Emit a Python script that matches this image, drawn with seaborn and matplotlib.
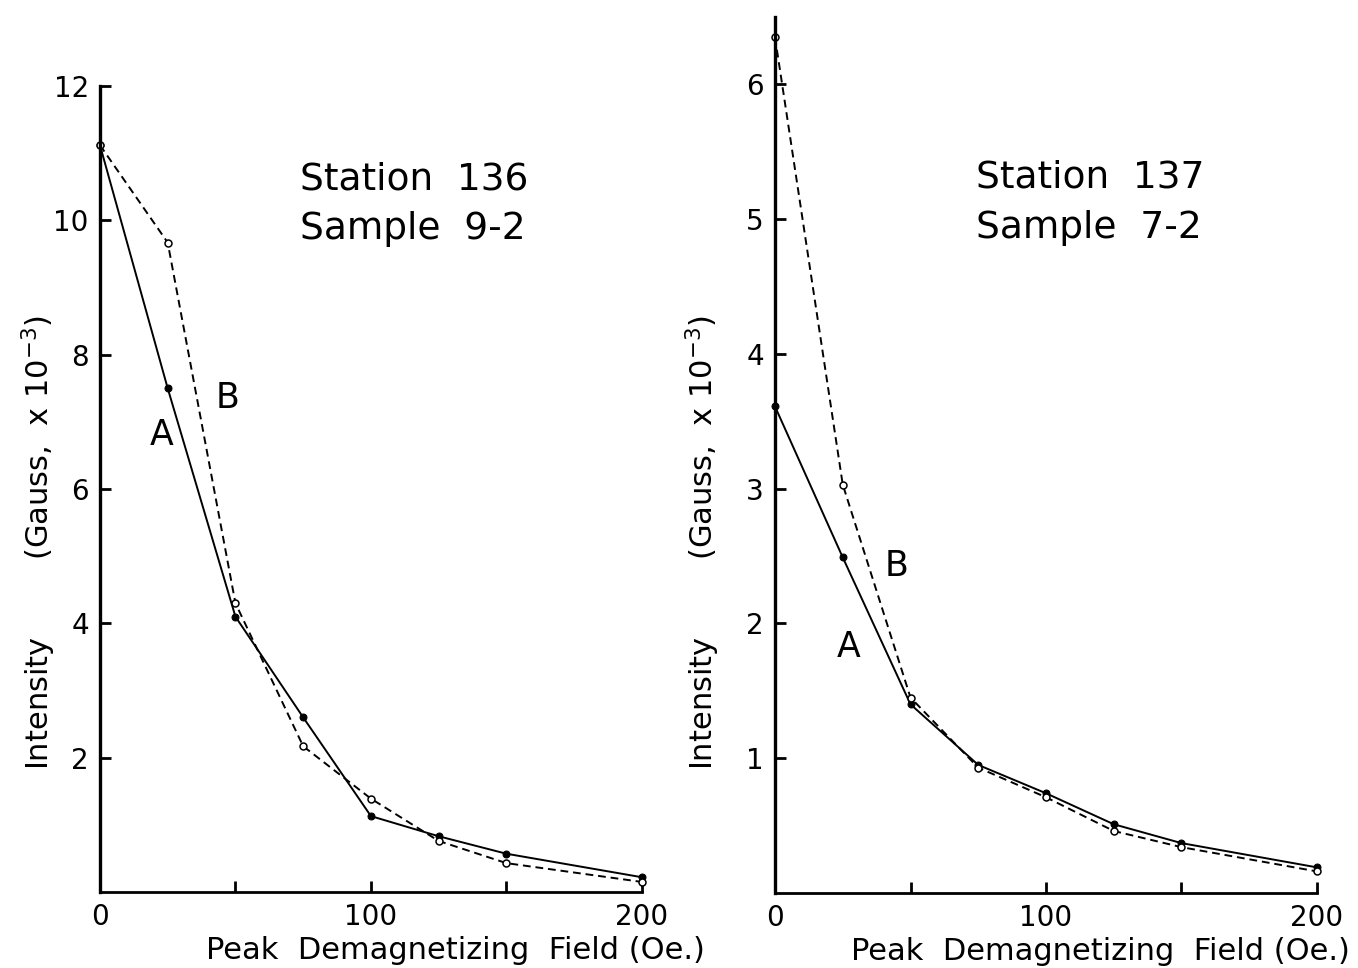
import numpy as np
import pandas as pd
import seaborn as sns
import matplotlib.pyplot as plt

# demagnetizing field steps (Oe.)
field = [0, 25, 50, 75, 100, 125, 150, 200]

# Station 136, sample 9-2 (intensity, gauss x 10^-3)
st136_A = [11.12, 7.5, 4.1, 2.6, 1.13, 0.83, 0.57, 0.22]
st136_B = [11.12, 9.67, 4.3, 2.17, 1.39, 0.76, 0.43, 0.15]

# Station 137, sample 7-2
st137_A = [3.61, 2.49, 1.40, 0.95, 0.74, 0.51, 0.37, 0.19]
st137_B = [6.35, 3.03, 1.45, 0.93, 0.71, 0.46, 0.34, 0.16]

x_ticks = [0, 50, 100, 150, 200]
x_ticklabels = ["0", "", "100", "", "200"]

sns.set_style("ticks", {"axes.edgecolor": "black", "text.color": "black",
                        "axes.labelcolor": "black", "xtick.color": "black",
                        "ytick.color": "black"})
plt.rcParams['font.family'] = ['DejaVu Sans']

fig = plt.figure(figsize=(13.58, 9.68), dpi=100)
ax1 = fig.add_axes([0.0736, 0.0785, 0.3991, 0.8326])
ax2 = fig.add_axes([0.5707, 0.0775, 0.3991, 0.9049])


def draw_panel(ax, a_vals, b_vals):
    sns.lineplot(x=field, y=a_vals, ax=ax, color="black", linewidth=1.4,
                 marker="o", markersize=5, markerfacecolor="black",
                 markeredgecolor="black", clip_on=False)
    sns.lineplot(x=field, y=b_vals, ax=ax, color="black", linewidth=1.4,
                 linestyle=(0, (4, 2.5)), marker="o", markersize=5,
                 markerfacecolor="white", markeredgecolor="black",
                 markeredgewidth=1.1, clip_on=False)
    sns.despine(ax=ax)
    ax.spines['left'].set_linewidth(2.4)
    ax.spines['bottom'].set_linewidth(2.0)
    ax.set_xlim(0, 200)
    ax.set_xticks(x_ticks)
    ax.set_xticklabels(x_ticklabels)
    ax.tick_params(direction="in", length=8, width=2, labelsize=20, pad=8,
                   colors="black")
    ax.set_xlabel("Peak  Demagnetizing  Field (Oe.)", fontsize=22)
    ax.set_ylabel("Intensity        (Gauss,  x 10$^{-3}$)", fontsize=22)


draw_panel(ax1, st136_A, st136_B)
ax1.set_ylim(0, 12)
ax1.set_yticks([2, 4, 6, 8, 10, 12])
ax1.xaxis.set_label_coords(0.655, -0.055)
ax1.yaxis.set_label_coords(-0.078, 0.434)
ax1.text(0.37, 0.872, "Station  136", transform=ax1.transAxes, fontsize=27)
ax1.text(0.37, 0.81, "Sample  9-2", transform=ax1.transAxes, fontsize=27)
ax1.text(27, 6.65, "A", fontsize=25, ha="right")
ax1.text(47, 7.2, "B", fontsize=25, ha="center")

draw_panel(ax2, st137_A, st137_B)
ax2.set_ylim(0, 6.5)
ax2.set_yticks([1, 2, 3, 4, 5, 6])
ax2.xaxis.set_label_coords(0.60, -0.05)
ax2.yaxis.set_label_coords(-0.097, 0.40)
ax2.text(0.37, 0.805, "Station  137", transform=ax2.transAxes, fontsize=27)
ax2.text(0.37, 0.748, "Sample  7-2", transform=ax2.transAxes, fontsize=27)
ax2.text(27, 1.75, "A", fontsize=25, ha="center")
ax2.text(45, 2.35, "B", fontsize=25, ha="center")

fig.savefig("out.png", dpi=100)
